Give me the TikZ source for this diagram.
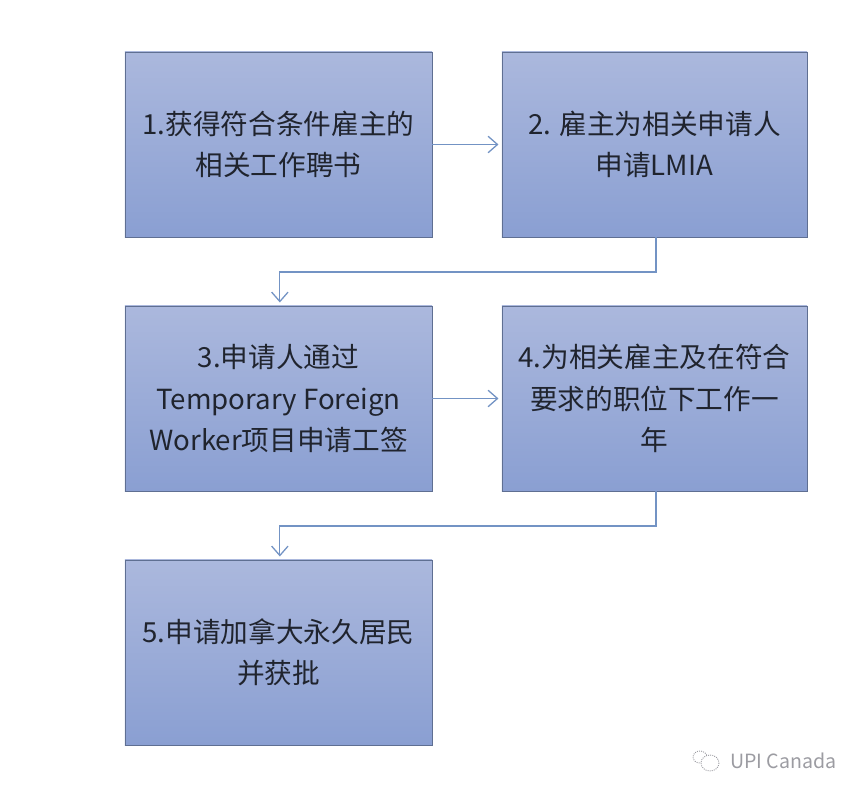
\documentclass[tikz,border=0pt]{standalone}
\usepackage{fontspec}
\setmainfont{Noto Sans CJK SC}
\usetikzlibrary{arrows.meta,shapes.misc}
\definecolor{boxtop}{HTML}{ABB8DD}
\definecolor{boxbottom}{HTML}{8A9FD2}
\definecolor{boxline}{HTML}{5F6F92}
\definecolor{linkline}{HTML}{7393C4}
\definecolor{boxtext}{HTML}{20242E}
\definecolor{marktext}{HTML}{9C9CA2}
\tikzset{
  stage/.style={draw=boxline,line width=0.8pt,top color=boxtop,bottom color=boxbottom,
    minimum width=9.21cm,minimum height=5.55cm,inner sep=0pt,outer sep=0pt,align=center,
    text=boxtext,font=\fontsize{23.6}{35.4}\selectfont},
  narrow/.style={minimum width=9.15cm},
  link/.style={draw=linkline,line width=1.1pt,shorten >=3pt}
}

\begin{document}
\begin{tikzpicture}[x=0.03cm,y=-0.03cm,->,>={Straight Barb[length=8pt,width=14pt]}]
  \useasboundingbox (0,0) rectangle (864,796);
  \node[stage] (box1) at (278.5,144.5) {1.获得符合条件雇主的\\相关工作聘书};
  \node[stage,narrow] (box2) at (654.5,144.5) {2. 雇主为相关申请人\\申请LMIA};
  \node[stage] (box3) at (278.5,398.5) {3.申请人通过\\Temporary Foreign\\Worker项目申请工签};
  \node[stage,narrow] (box4) at (654.5,398.5) {4.为相关雇主及在符合\\要求的职位下工作一\\年};
  \node[stage] (box5) at (278.5,652.5) {5.申请加拿大永久居民\\并获批};
  \coordinate (turn2) at (656,272);
  \coordinate (turn4) at (656,526);
  \path (box1) edge[link] (box2);
  \path (box3) edge[link] (box4);
  \draw[link] (turn2 |- box2.south) -- (turn2) -| ([xshift=0.04cm]box3.north);
  \draw[link] (turn4 |- box4.south) -- (turn4) -| ([xshift=0.04cm]box5.north);
  % watermark
  \node[text=marktext,font=\fontsize{16.7}{20}\selectfont,anchor=west,inner sep=0pt] (mark) at (730,761) {UPI Canada};
  \draw[-,marktext,densely dotted,line width=0.8pt] (700,757) circle[x radius=7,y radius=6];
  \draw[-,marktext,densely dotted,line width=0.8pt,fill=white] (710,763) circle[x radius=9,y radius=8];
\end{tikzpicture}
\end{document}
